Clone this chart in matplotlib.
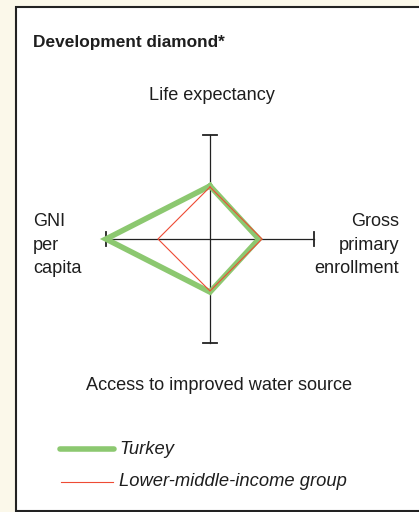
import matplotlib.pyplot as plt
from matplotlib.patches import Rectangle

plt.rcParams['font.family'] = ['Liberation Sans', 'DejaVu Sans']

# axes of the diamond, clockwise from the top
axis_labels = ['Life expectancy', 'Gross\nprimary\nenrollment',
               'Access to improved water source', 'GNI\nper\ncapita']
series_names = ['Turkey', 'Lower-middle-income group']
turkey = [0.51, 0.47, 0.51, 1.0]
group = [0.5, 0.5, 0.5, 0.5]

green = '#8CC870'
red = '#EE4B35'
bg = '#FBF8EA'
ink = '#1e1e1e'

W, H = 419, 512
fig = plt.figure(figsize=(W / 100, H / 100), dpi=100, facecolor=bg)

# overlay axes in pixel coordinates for the panel and the text
over = fig.add_axes([0, 0, 1, 1])
over.set_xlim(0, W)
over.set_ylim(H, 0)
over.axis('off')
over.add_patch(Rectangle((15.5, 6.5), W, 504, facecolor='white',
                         edgecolor='#222222', linewidth=1.5, zorder=0))

over.text(33, 43, 'Development diamond*', fontsize=12.4, fontweight='bold',
          color=ink, va='center', ha='left')
over.text(212, 95, axis_labels[0], fontsize=13.1, color=ink,
          ha='center', va='center')
over.text(399, 245, axis_labels[1], fontsize=13.1, color=ink,
          ha='right', va='center', linespacing=1.52)
over.text(219, 385, axis_labels[2], fontsize=13.1, color=ink,
          ha='center', va='center')
over.text(33, 245, axis_labels[3], fontsize=13.1, color=ink,
          ha='left', va='center', linespacing=1.52)

# legend
over.plot([60, 114], [449, 449], color=green, linewidth=4,
          solid_capstyle='round')
over.text(119, 449, series_names[0], fontsize=13.2, style='italic',
          color=ink, va='center')
over.plot([61, 113], [482, 482], color=red, linewidth=0.8)
over.text(119, 482, series_names[1], fontsize=13.2, style='italic',
          color=ink, va='center')

# diamond axes, centre at (210, 239) px, unit = 104 px
cx, cy, half = 210, 239, 114
ax = fig.add_axes([(cx - half) / W, (H - cy - half) / H, 2 * half / W, 2 * half / H])
ax.set_xlim(-1.096, 1.096)
ax.set_ylim(-1.096, 1.096)
ax.axis('off')
ax.patch.set_alpha(0)

ax.plot([-1, 1], [0, 0], color='#222222', linewidth=0.9)
ax.plot([0, 0], [-1, 1], color='#222222', linewidth=0.9)
cap = 0.065
for s in (-1, 1):
    ax.plot([s, s], [-cap, cap], color='#222222', linewidth=1.3)
    ax.plot([-cap, cap], [s, s], color='#222222', linewidth=1.3)

def to_xy(vals):
    xs = [0, vals[1], 0, -vals[3], 0]
    ys = [vals[0], 0, -vals[2], 0, vals[0]]
    return xs, ys

tx, ty = to_xy(turkey)
ax.plot(tx, ty, color=green, linewidth=4, solid_joinstyle='miter', zorder=3)
gx, gy = to_xy(group)
ax.plot(gx, gy, color=red, linewidth=0.8, zorder=4)

fig.savefig('out.png', dpi=100, facecolor=bg)
